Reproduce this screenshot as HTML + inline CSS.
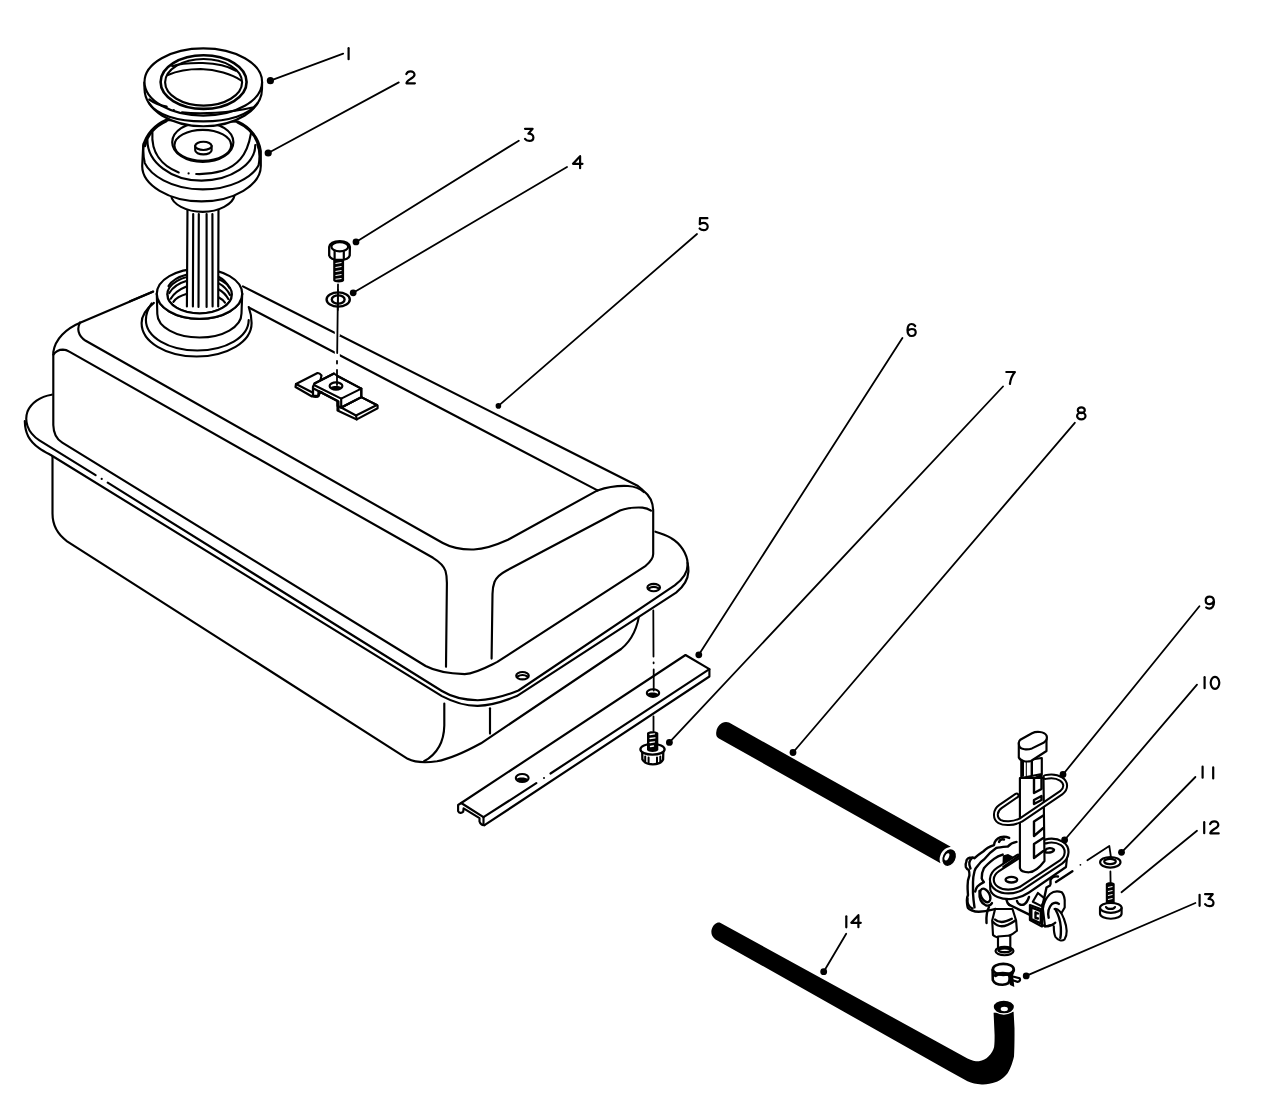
<!DOCTYPE html>
<html><head><meta charset="utf-8"><title>Fuel Tank Parts Diagram</title>
<style>
html,body{margin:0;padding:0;background:#fff;}
body{width:1280px;height:1105px;overflow:hidden;font-family:"Liberation Sans",sans-serif;}
svg{display:block;}
.s{fill:none;stroke:#000;stroke-width:2.15;stroke-linecap:round;stroke-linejoin:round;}
.w{fill:#fff;stroke:#000;stroke-width:2.15;stroke-linecap:round;stroke-linejoin:round;}
.f{fill:#fff;stroke:none;}
.t{fill:none;stroke:#000;stroke-width:1.8;stroke-linecap:round;stroke-linejoin:round;}
.l{fill:none;stroke:#000;stroke-width:1.8;stroke-linecap:round;}
.d{fill:#000;stroke:none;}
.g{fill:none;stroke:#000;stroke-width:2.4;stroke-linecap:round;stroke-linejoin:round;}
</style></head>
<body>
<svg width="1280" height="1105" viewBox="0 0 1280 1105">
<defs>
<g id="n0"><ellipse cx="4.4" cy="6" rx="4.3" ry="6"/></g>
<g id="n1"><path d="M0,0 V11"/></g>
<g id="n2"><path d="M0,2.8 C0.8,0.8 2.5,0 4.2,0 C6.5,0 8.2,1.5 8.2,3.5 C8.2,5.5 6,6.5 4,7.8 C2,9 0.3,10 0.2,12 L8.6,12"/></g>
<g id="n3"><path d="M0.2,0 H7.8 L3.6,4.8 C6.6,4.6 8.6,6.4 8.6,8.6 C8.6,10.7 6.8,12 4.5,12 C2.6,12 1,11.2 0.2,10"/></g>
<g id="n4"><path d="M7.1,12 V0 L0,7.6 H9.5"/></g>
<g id="n5"><path d="M8.2,0 H0.8 L0.6,6 C1.5,5 3,4.6 4.3,4.6 C6.8,4.6 8.5,6.3 8.5,8.5 C8.5,10.5 6.8,12 4.5,12 C2.8,12 1.3,11.3 0.4,10.3"/></g>
<g id="n6"><path d="M8.2,2 C7.3,0.7 6,0 4.5,0 C2,0 0.6,2.5 0.5,6 C0.4,9.5 2,12 4.6,12 C7,12 8.7,10.5 8.7,8.3 C8.7,6.3 7,5 4.8,5 C3,5 1.6,5.8 0.8,7"/></g>
<g id="n7"><path d="M0,0 H8.6 C6,3 4.3,6.5 3.6,12"/></g>
<g id="n8"><ellipse cx="4.5" cy="2.9" rx="3.5" ry="2.9"/><ellipse cx="4.5" cy="8.7" rx="4.2" ry="3.3"/></g>
<g id="n9"><path d="M8.3,4.5 C7.8,6.5 6.2,7.5 4.3,7.5 C1.8,7.5 0.2,6 0.2,3.8 C0.2,1.5 2,0 4.3,0 C7,0 8.5,2 8.5,5.5 C8.5,9.5 6.5,12 3.8,12 C2.5,12 1.5,11.6 0.7,10.9"/></g>
</defs>

<!-- ================= TANK ================= -->
<g id="tank">
<!-- lower body -->
<path class="s" d="M52.5,450 L52.5,513.6 C52.5,524 57,534 67.1,541.3 L407.7,758.8 C414,762 425,763 437,761.3 C452,758.5 466,751.5 481,743.3 L621.1,649 C631,641 638,628 639.9,610"/>
<path class="s" d="M444.3,703.5 L444.3,725.4 C444,741 437,754 424,761.3"/>
<path class="s" d="M490,708.3 L490,733.6"/>

<!-- flange -->
<path class="f" d="M51.7,394.7 C40,396.5 31,403 27.5,411.5 C24,420 24.5,433 29.7,440.3 C33,446 43,451 50.8,455 L441.9,696.1 C455,703 466,706 477.7,705.9 C492,705.5 505,701 516.8,696.1 L676.1,592.6 C683,587 688.5,580 688.4,571.6 C688,556 680,543 671.3,538.2 C666,535 660,533 655.4,531.7 Z"/>
<path class="s" d="M51.7,394.7 C40,396.5 31,403 27.5,411.5 C24.5,420 26.5,432 39.4,440.3 L95.6,475.2 M107.7,482.7 L441.9,691 C451,696.5 463,700 477.7,700.2 C492,700 505,696 518.5,690.5 L674.7,585.3 C682,580 687.7,572 687.7,564 C687.5,554 680,543 671.3,538.2 C666,535 660,533 655.4,531.7"/>
<path class="s" d="M24.8,421 C25,433 29,441 39.4,448.4 C43,451 47,453 50.8,455 L441.9,696.1 C455,703 466,706 477.7,705.9 C492,705.5 505,701 516.8,696.1 L676.1,592.6 C683,587 688,580 688.4,571.6 C688.5,568 688,565 687.5,563"/>
<circle class="d" cx="101.7" cy="478.9" r="1.1"/>
<ellipse class="s" cx="522.5" cy="675.7" rx="6.3" ry="3.7"/>
<path class="s" d="M517.5,676.5 Q522.5,673.5 527.5,676.5"/>
<ellipse class="s" cx="653.7" cy="587.5" rx="6.3" ry="3.7"/>
<path class="s" d="M648.7,588.3 Q653.7,585.3 658.7,588.3"/>

<!-- upper body -->
<path class="f" d="M152.9,291.7 L80.7,322.4 C66,328.5 55,339 53.3,352.2 L53.3,425 C53.5,434 57,439.5 62.3,442.7 L425.6,666 C435,671 448,673.5 464.7,674.1 C476,673.5 487,667 497.3,661.9 L645.7,565.8 C649,563 653.2,559 653.2,554 L653.2,510.7 C653,502 649,495 643.8,491.1 C642,489.5 640,487.5 638,486 L242.9,286.4 L206,268 Z"/>
<path class="s" d="M152.9,291.7 L80.7,322.4 C66,328.5 55,339 53.3,352.2 L53.3,425 C53.5,434 57,439.5 62.3,442.7 L425.6,666 C435,671 448,673.5 464.7,674.1 C476,673.5 487,667 497.3,661.9 L645.7,565.8 C649,563 653.2,559 653.2,554 L653.2,510.7 C653,502 649,495 643.8,491.1 C642,489.5 640,487.5 638,486 L242.9,286.4"/>
<path class="s" d="M80,322.4 C77,328 77.5,335.5 85.7,340.8 L442.8,543 C452,548 463,549.8 473.8,549.5 C484,549 494,546 508,539.7 L597.5,490.4"/>
<path class="s" d="M597.5,490.4 C606,487.5 618,485.5 628,486 C635,486.5 640,488.5 643.8,492"/>
<path class="s" d="M248.7,307.5 L597.5,490.4"/>
<path class="s" d="M53.4,354.7 C55.5,351.5 59,349.6 62.9,349.6 C65.5,349.7 67.5,350.5 69.3,351.6 L433,557.8 C439,561.5 444,566 445.5,571 C446.7,575 446.9,579 446.9,582.9 L446,666.8"/>
<path class="s" d="M651,510.7 C648,508.5 645,507.8 642.4,507.6 C636,507.3 628,507.5 620,510.5 L506.3,570.7 C500,574 496,578 494.5,582 C493,586 492.5,590 492.5,594 L491.6,658.6"/>
</g>

<!-- ================= FILLER NECK ================= -->
<g id="neck">
<!-- base boss rings -->
<path class="w" d="M153.9,302.8 C146,309 141.6,316 141.6,323 C141.6,342 166,356.5 196.6,356.5 C227,356.5 251.6,342 251.6,323 C251.6,317 250.5,312 248.7,307"/>
<path class="s" d="M151.7,303.5 C147.5,309 145.9,315 145.9,320 C145.9,337 168.5,350.5 197.3,350.5 C226,350.5 248.7,337 248.7,320"/>
<!-- neck body -->
<path class="w" d="M156.8,293.8 L157.3,314 C157.5,327 176,337.5 199.5,337.5 C223,337.5 241.5,327 241.5,313.5 L242.2,293.8 Z"/>
<ellipse class="w" cx="199.5" cy="293.8" rx="42.7" ry="25"/>
<ellipse class="w" cx="199.6" cy="294.5" rx="32.3" ry="19"/>
<!-- threads -->
<path class="s" d="M168.5,286 C172,280.5 179,276.5 187,274.5"/>
<path class="s" d="M169.3,293 C173,287 179,283 187,280.8"/>
<path class="s" d="M170.7,298.7 C174,293 180,289 187,286.2"/>
<path class="s" d="M173.4,301.8 C176,298 181,295.5 187,293.8"/>
<path class="s" d="M218.5,276.8 C223,279 227,283 229.5,288"/>
<path class="s" d="M218.5,283.1 C223,285.5 227.5,290 230,295"/>
<path class="s" d="M218.5,289.3 C222.5,291.5 226,295 228.3,299"/>
<path class="s" d="M218.5,297.2 C221,298.5 223.5,300.5 225,302.6"/>
<!-- strainer tube -->
<path class="f" d="M187.5,205 L186.8,307 L218.2,307 L218.5,205 Z"/>
<path class="s" d="M187.5,205 L186.9,306.5 M218.5,205 L218.2,306.5"/>
<path class="s" d="M193.2,214 L192.9,306.5 M198.8,214 L198.5,307 M206.6,214 L206.6,307 M212.4,214 L212.6,306.5"/>
<!-- front lip of neck opening (hides tube bottom) -->
<path class="f" d="M156.8,293.8 C156.8,307.6 176,318.8 199.5,318.8 C223,318.8 242.2,307.6 242.2,293.8 L231.9,294.5 C231.9,305 217.4,313.5 199.6,313.5 C181.8,313.5 167.3,305 167.3,294.5 Z"/>
<path class="s" d="M156.8,293.8 C156.8,307.6 176,318.8 199.5,318.8 C223,318.8 242.2,307.6 242.2,293.8"/>
<path class="s" d="M167.3,294.5 C167.3,305 181.8,313.5 199.6,313.5 C217.4,313.5 231.9,305 231.9,294.5"/>
<!-- tank top line stubs near neck -->
<path class="s" d="M130,301.3 L153.2,291.5"/>
</g>

<!-- ================= CAP (2) ================= -->
<g id="cap">
<!-- lower neck of cap -->
<path class="w" d="M171.1,195.5 C172,204 186,211.8 202.8,211.8 C219,211.8 233,204 234.5,195.5 Z"/>
<!-- body silhouette -->
<path class="w" d="M165.6,119.9 C155,124.5 146,134 143.2,145.6 L142.2,166 C142.2,185 169,201.4 201.5,201.4 C234,201.4 260.8,185 260.8,166 L260.8,151 C259,138 250,127 237.8,121.6 Z"/>
<path class="s" d="M166.5,121.2 C156,126 147.5,134.5 145,146 M237.5,122.3 C248,127 256.5,136 258.8,148" style="stroke-width:2.4"/>
<path class="s" d="M143.7,143.4 C143,150 143.5,158 144.8,163.1 C150,174 170,189.4 202.8,189.4 C230,189.4 252,178 258.6,165.3 C260,158 259.5,150 257.5,144.5"/>
<path class="s" d="M147.4,140 C147.3,162 171,180.6 201.5,180.6 C231,180.6 255.3,164 255.3,145"/>
<path class="s" d="M152.4,132.5 C151,153 162,166 178.7,172.5"/>
<path class="s" d="M196.2,174 C205,174.3 215,173 222.5,170.8 C236,166 247,157 250.9,133.6"/>
<circle class="d" cx="188.6" cy="173.4" r="1.1"/>
<!-- recess -->
<ellipse class="w" cx="202.8" cy="142.2" rx="30.6" ry="19.8"/>
<ellipse class="s" cx="202.8" cy="145.3" rx="28.4" ry="15.5"/>
<!-- button -->
<path class="w" d="M195.2,145.9 L195.2,150.3 C195.2,152.6 198.9,154.4 203.4,154.4 C207.9,154.4 211.6,152.6 211.6,150.3 L211.6,145.9 Z"/>
<ellipse class="w" cx="203.4" cy="145.9" rx="8.2" ry="4.1"/>
</g>

<!-- ================= GASKET (1) ================= -->
<g id="gasket">
<path class="w" d="M144.3,82.5 L144.5,89 C145,110 171,126.2 203.3,126.2 C235.6,126.2 261.8,110 262,89 L262.1,82.5 Z"/>
<ellipse class="w" cx="203.3" cy="82" rx="58.8" ry="33.6"/>
<path class="s" d="M149,103 C157,115 177,121.3 203.3,121.3 C229,121.3 249,115 257.5,103"/>
<path class="s" d="M149.2,99.5 C155,103.5 160,105.5 166.7,106.5"/>
<path class="s" d="M182,112.3 C200,114.3 230,113 252.5,107.5"/>
<circle class="d" cx="173.8" cy="110" r="1.1"/>
<ellipse class="g" cx="203.6" cy="82.1" rx="43" ry="26.8" style="stroke-width:2.6"/>
<ellipse class="s" cx="203.6" cy="82.3" rx="38.5" ry="23.3"/>
<path class="s" d="M172.2,66.2 C180,63.5 192,62.8 202.8,63 C215,63.4 228,66 235.6,70.6"/>
<path class="s" d="M167.8,75 C177,71 190,69 200.6,69 C216,69.5 232,74 241.1,80.5"/>
</g>

<!-- ================= BRACKET / BOLT 3 / WASHER 4 ================= -->
<g id="bracket">
<!-- left tab -->
<path class="w" d="M321.5,375.5 C320,373.5 318.5,372.8 317.5,373 L296,384 L295.5,387 L312,396.5 L318,396.5 L320.5,392 L320.5,380 Z"/>
<path class="s" d="M296,384 L312.5,392.5"/>
<!-- right (lower) tab -->
<path class="w" d="M341.2,407.5 L361.3,397.1 L377.6,405.5 L377.6,408.3 L356.8,419.4 L337.5,410.5 L337.5,401 Z"/>
<path class="s" d="M361.3,397.1 L376.9,405 L356,415.5 L341.2,407.5"/>
<path class="s" d="M356,415.5 L356.8,419.4"/>
<!-- raised middle -->
<path class="w" d="M314.5,383.5 L334,373.5 L337.5,376 L361.3,388.6 L361.3,397.1 L341.2,407.5 L337.5,406 L337.5,401 L318.5,391 L318.5,396 L313,395.6 L313,386.7 Z"/>
<path class="s" d="M314.5,385.2 L341.2,398.6 L361.3,388.6 L337.5,376"/>
<path class="s" d="M314.5,383.5 L334,373.5"/>
<path class="s" d="M314,388.8 L338.5,401.5 L338.5,410"/>
<path class="s" d="M341.2,398.6 L341.2,407.5 L361.3,397.1 L361.3,388.6"/>
<path class="s" d="M313,386.7 L313,395.6 C314,397.5 317,397.5 318.5,395.5 L319,392.5 L321.5,392"/>
<ellipse class="s" cx="336" cy="386" rx="6.4" ry="3.6"/>
<path class="d" d="M330.5,387 C332,390 340,390 341.5,387 C339,385.5 333,385.5 330.5,387 Z"/>
</g>
<g id="bolt3">
<path d="M337.3,344 L337.3,357 M337.3,327 L337.3,336" stroke="#fff" stroke-width="5" fill="none"/>
<path class="t" d="M338,284.5 L337.2,353 M337,361 L337,363.5 M337,370 L337,385" style="stroke-width:1.8"/>
<!-- washer 4 -->
<ellipse class="s" cx="338.2" cy="299.5" rx="11.6" ry="7.1" style="stroke-width:2.4"/>
<ellipse class="s" cx="338.2" cy="299.5" rx="6.4" ry="4.1" style="stroke-width:2.4"/>
<path class="t" d="M338,290 L337.8,310" style="stroke-width:1.8"/>
<!-- bolt -->
<path d="M333.2,258 L333.2,280.5 C333.5,283 344,283 344.1,280.5 L344.1,258 Z" fill="#000"/>
<path d="M335.5,263.5 L341.5,262.5 M335.5,267.5 L341.5,266.5 M335.5,271.5 L341.5,270.5 M335.5,275.5 L341.5,274.5 M335.5,279.3 L341.5,278.5" stroke="#fff" stroke-width="1.1" fill="none"/>
<path class="w" d="M329.2,247 L329.2,255.5 C330,258.5 334.5,260 339.5,260 C344.5,260 349,258.5 349.7,255.5 L349.9,247 C349,243 345,241.2 339.8,241.2 C334.5,241.2 330,243 329.2,247 Z" style="stroke-width:2.3"/>
<ellipse class="s" cx="339.8" cy="246.7" rx="8.4" ry="4.6" style="stroke-width:2.2"/>
<path class="s" d="M334.6,251.5 L334.6,258.5 M343.8,251.5 L343.8,258.5" style="stroke-width:2.2"/>
</g>

<!-- ================= STRAP (6) & BOLT 7 ================= -->
<g id="strap">
<path class="f" d="M461.2,803 L685.5,655 L709.4,669.2 L709.4,676.5 L484.5,825.5 L480.5,824.3 L479.5,821.3 L463.5,811.5 L458.1,811.1 L458.1,805 Z"/>
<path class="s" d="M483.5,817.2 L461.2,803 L685.5,655 L709.4,669.2 L550.5,773.5 M536.3,783.2 L483.5,817.2"/>
<path class="s" d="M709.4,669.2 L709.4,676.5 L484.5,825.2"/>
<path class="s" d="M483.5,817.2 L483.5,825"/>
<path class="s" d="M461.2,803 L458.1,805 L458.1,811.1 C459,813.2 461.5,813.5 463.2,811.8 L463.6,808.3 L479.5,818.2 L479.5,821.5 C480.3,824 482,825.5 484.5,825.2"/>
<circle class="d" cx="544" cy="778.1" r="1"/>
<ellipse class="s" cx="522.2" cy="778" rx="6.4" ry="4"/>
<path class="d" d="M516.5,779 C518,782 526,782.5 528,779.5 C526,777 518.5,777 516.5,779 Z"/>
<ellipse class="s" cx="653" cy="693" rx="6.2" ry="3.8"/>
<path class="d" d="M647.5,694 C649,697 657,697.5 658.5,694.5 C656.5,692 649.5,692 647.5,694 Z"/>
</g>
<!-- centerline through flange hole to bolt 7 -->
<path class="t" d="M653.3,610.5 L653.5,656.5 M653.6,662.3 L653.6,663.3 M653.7,669.5 L653.7,690.5 M653.5,716.5 L653.5,731"/>
<!-- white gap in strap top edge around centerline -->
<g id="bolt7">
<path class="w" d="M642.2,752 L642.4,759.5 C644,762.5 648,764.3 652.9,764.3 C657.8,764.3 661.8,762.5 663.1,759.5 L663.3,752 Z" style="stroke-width:2.3"/>
<path class="s" d="M645.2,756.5 L645.2,761.5 M648.6,757.5 L648.6,763.5 M657,757.5 L657,763.5 M660.3,756.5 L660.3,761.5" style="stroke-width:2"/>
<ellipse class="w" cx="652.5" cy="749.3" rx="12.1" ry="5.4" style="stroke-width:2.3"/>
<path d="M647,733 L647,750 C648,752.5 657,752.5 658.3,750 L658.3,733 C657,730.5 648,730.5 647,733 Z" fill="#000"/>
<path d="M650,734.5 L654.5,733.8 M650,738.5 L655,737.8 M650,742.5 L654.5,741.8 M650.5,746.5 L653.5,746" stroke="#fff" stroke-width="1.3" fill="none" stroke-linecap="round"/>
</g>

<!-- ================= HOSE 8 ================= -->
<g id="hose8">
<path d="M729,722.6 L950.8,846.8 C946,847.5 942,851 940.5,855 C939.2,858 939.4,861 940.5,863.2 L718.5,738.2 C716.5,737 716,735 716.2,732.5 C716.5,728.5 718.5,725 722,723 C724.5,721.8 727,721.8 729,722.6 Z" fill="#000"/>
<ellipse cx="949.1" cy="857.6" rx="7" ry="9.3" transform="rotate(25 949.1 857.6)" fill="#000" stroke="#fff" stroke-width="1.3"/>
<ellipse cx="946.9" cy="856.8" rx="2" ry="3.8" transform="rotate(25 946.9 856.8)" fill="#fff"/>
</g>

<!-- ================= HOSE 14 ================= -->
<g id="hose14">
<path d="M719.7,922.5 L967.5,1058.4 C972,1060.5 975.5,1061.3 978.9,1061.2 C983,1060.5 986,1059 988.4,1056.5 C991.5,1053.5 993.5,1050 994.1,1047 C994.6,1043 994.6,1040 994.6,1035 L993.6,1012.8 L1013.6,1011.8 L1014.5,1028 C1014.6,1040 1014.4,1050 1014,1056.5 C1012,1065 1010,1069 1007.4,1073.6 C1003,1078.5 1000,1080.5 996,1082.1 C991,1084 986,1084.7 981.7,1084.5 C976,1084 972,1083 967.5,1081.2 L948.5,1070.7 L715.5,939.4 C711.5,937 710.5,932 712,928.5 C713.5,924.5 716.5,922 719.7,922.5 Z" fill="#000"/>
<ellipse cx="1003.8" cy="1007" rx="10.7" ry="7" fill="#000" stroke="#fff" stroke-width="1.3"/>
<ellipse cx="1004.3" cy="1009" rx="3.6" ry="2.2" fill="#fff"/>
</g>

<!-- ================= CLAMP 13 ================= -->
<g id="clamp13">
<path class="w" d="M992.6,970 L992.8,980 C994,983 998,984.7 1002.6,984.7 C1005,984.7 1007,984 1008.4,983.1 L1013.9,970 Z" style="stroke-width:2.6"/>
<ellipse cx="1003.3" cy="969.3" rx="10.4" ry="5.5" fill="#fff" stroke="#000" stroke-width="2.7"/>
<path d="M995.5,975.3 C998.5,972.8 1007,972.8 1010.8,975.5" fill="none" stroke="#000" stroke-width="3.6" stroke-linecap="round"/>
<path d="M1008,975.5 L1013.2,976.5 L1014.3,987 L1010,985 L1008.5,980 Z" fill="#000"/>
<path d="M1012,976.2 L1019.5,978.2 C1020.8,980 1019.5,981.8 1017.5,981.8 L1013.5,980.5" fill="none" stroke="#000" stroke-width="2.2" stroke-linecap="round"/>
</g>

<!-- ================= WASHER 11 / SCREW 12 ================= -->
<g id="screw">
<path class="t" d="M1087.4,860.3 L1109.3,845.9 L1111.2,858.8"/>
<circle class="d" cx="1080.4" cy="864.8" r="0.9"/>
<ellipse class="s" cx="1110.3" cy="862.3" rx="10.2" ry="5.3"/>
<ellipse class="s" cx="1110" cy="861.5" rx="5.8" ry="2.6"/>
<path class="t" d="M1110.4,871.5 L1110.6,884"/>
<path d="M1105.8,884 L1105.8,905 L1114.7,905 L1114.7,884 C1114.7,881.5 1105.8,881.5 1105.8,884 Z" fill="#000"/>
<path d="M1108,887.5 L1112.5,886.5 M1108,891.5 L1112.5,890.5 M1108,895.5 L1112.5,894.5 M1108,899.5 L1112.5,898.5" stroke="#fff" stroke-width="1.2" fill="none"/>
<path class="w" d="M1100,908 L1100,913.5 C1100,916.8 1105,918.7 1110.8,918.7 C1116.5,918.7 1121.6,916.8 1121.6,913.5 L1121.6,908 Z"/>
<ellipse class="w" cx="1110.8" cy="907.8" rx="10.8" ry="5"/>
<path class="s" d="M1106,907 C1107,909.5 1114,909.5 1115,907"/>
</g>

<!-- ================= VALVE (9,10) ================= -->
<g id="valve">
<!-- lever body (left) -->
<path class="g" d="M1009.2,837.9 C1006,836.5 1002,836.8 1000.5,837.2 C997,838.5 994.5,841 994,845.1 C990,846.5 986,848.5 983.9,850.9 C980,853.5 976.5,856 974.5,858.2 C973.5,857.5 972.5,857.3 972.3,857.4 C968.5,857.5 966.3,859 966.5,861.1 C965.5,863.5 965.5,866 965.8,866.9 C966.5,868.5 967.5,869.5 968.7,869.8 C969.5,872 969.5,874 969.4,875.5 C968,879 967.5,883 967.6,885.7 C967.5,889 967.8,892 968,895.1 C967,897 966.8,898.5 966.9,900.2 C967,904 967.3,906.5 968,908.1 C969,909.5 970.5,910 971.6,910.3 C974,911.3 976,911.8 978.8,911.8 C984,911.5 989,910.5 992.6,909.6 L995.5,908.9"/>
<path class="g" d="M999,842 C1000,839.5 1002,839 1004,839.5"/>
<path class="g" d="M1016.5,841.9 C1013,842.5 1010,844 1007.8,846.6 C1003,847 999,847.3 996.2,848 C991,851.5 987,855.5 983.9,859.6 C981,861.5 979.5,863.5 978.1,865.4 C976,867.5 975,869.5 974.5,871.2 C973.5,875 973,878 973,882.1 L973,893 C973.3,899 973.8,903 974.5,907.4"/>
<path class="g" d="M1002.7,854.6 C999.5,855.5 996.5,857 994,858.9 C990,862 986.5,865 983.9,868.3 C982,872 981.5,875 981.7,878.4 C982.3,880 983,881 983.9,882.1 C981,883.5 979,884.5 977.4,886.4 C976,888 975.5,890 975.2,891.5"/>
<path class="g" d="M972,858 C969.5,860 968.5,864 970.5,868.5 M967.5,898.5 C967,903 969,907 972.5,908.5"/>
<path class="d" d="M1002.8,855.5 L1008,854 L1013,856.5 L1010.5,859 L1005.5,866.9 L1002.5,864 Z"/>
<!-- left outlet -->
<ellipse class="g" cx="985.3" cy="895.4" rx="4.3" ry="7.3" transform="rotate(-28 985.3 895.4)"/>
<path class="g" d="M979.5,891 C979,898 981,903.5 986,905.5 C989,906 991,905 992,903"/>
<!-- underside pieces -->
<path class="g" d="M1008.9,904.6 L1029.9,914.8"/>
<path class="g" d="M1017,901 C1018,904.5 1021,905.5 1024,904.5 C1026.5,903 1028,900 1029,897"/>
<path class="g" d="M1006.5,900 C1007,902.5 1008,904 1009.5,905"/>
<!-- plate thickness -->
<path class="w" d="M990,882 L990.3,890 C992,896 1001,899.5 1011,899 C1017,898.5 1023,896.5 1029,892.5 L1066,867 L1067.5,853 Z"/>
<!-- mounting plate (10) -->
<path d="M1017.9,856.7 L998,869.5 C990.5,874.5 989.5,883.5 997,888.5 C1003,892.5 1013,892.5 1021,888.5 L1061,862 C1068,857 1068.5,848 1062,843.5 C1056,840 1049,840.5 1045.5,841.5" fill="#fff" stroke="#000" stroke-width="6" stroke-linecap="round" stroke-linejoin="round"/>
<path d="M1017.9,856.7 L998,869.5 C990.5,874.5 989.5,883.5 997,888.5 C1003,892.5 1013,892.5 1021,888.5 L1061,862 C1068,857 1068.5,848 1062,843.5 C1056,840 1049,840.5 1045.5,841.5" fill="none" stroke="#fff" stroke-width="1.7" stroke-linecap="round" stroke-linejoin="round"/>
<path class="g" d="M1003.4,866.9 L1017.9,856.7"/>
<ellipse class="g" cx="1011.4" cy="879.7" rx="5.8" ry="2.8"/>
<!-- stem -->
<path class="w" d="M1019.9,778 L1019.9,868 C1020.5,871 1024,872.3 1029,872.3 C1035,872 1040,867 1044.5,861 L1043.5,778 Z"/>
<path class="g" d="M1034,821.6 L1034,836 L1043.3,828 M1034,821.6 L1043.3,815.5"/>
<path class="g" d="M1034,844 L1034,858 L1043.3,851 M1034,844 L1043.3,838"/>
<path class="g" d="M1034,793 L1034,778.5 L1041.5,775 L1041.5,789 Z"/>
<path class="g" d="M1034,804 L1034,800 L1041.5,796 L1041.5,800 Z"/>
<path class="g" d="M1045,850.5 C1047,847.5 1052,847.5 1054,849.5 C1054,852 1050,853 1046,852.5"/>
<!-- upper thin stem -->
<path class="w" d="M1021.3,761 L1021.3,778 L1041.8,774 L1041.8,758 Z"/>
<path d="M1021.5,761 L1024,761 L1024,776.5 L1021.5,777 Z M1025.8,761 L1026.8,761 L1026.8,776 L1025.8,776 Z" fill="#000"/>
<path class="g" d="M1031.8,761 L1031.8,775"/>
<!-- top cap -->
<path class="w" d="M1018.8,743 L1018.8,757.5 C1020,760.5 1026,762.5 1031,761 L1046.5,751 L1046.5,737.5 Z"/>
<path class="w" d="M1020.3,739.8 L1032,733.2 C1036,731.2 1044,731.2 1046.5,735.5 C1048,739 1046,741 1043.5,742.8 L1032,748.4 C1027,750.2 1021,749.4 1019.4,746.5 C1018.5,744 1018.6,741.5 1020.3,739.8 Z"/>
<!-- gasket 9 (loop) -->
<path d="M1016.6,795.5 L1000.5,806.5 C994.5,810.5 994.5,818.5 999.5,821.5 C1004,824 1013,824 1021,820 L1061.5,792.5 C1066.5,788.5 1066.5,782.5 1061,779 C1056.5,776 1050,776 1045.5,777" fill="none" stroke="#000" stroke-width="5.8" stroke-linecap="round" stroke-linejoin="round"/>
<path d="M1016.6,795.5 L1000.5,806.5 C994.5,810.5 994.5,818.5 999.5,821.5 C1004,824 1013,824 1021,820 L1061.5,792.5 C1066.5,788.5 1066.5,782.5 1061,779 C1056.5,776 1050,776 1045.5,777" fill="none" stroke="#fff" stroke-width="1.8" stroke-linecap="round" stroke-linejoin="round"/>
<!-- nozzle -->
<path class="w" d="M995.1,909 L992.2,920.5 L993,935 C995,937 998,937.5 1000,937.5 C1005,937.5 1012,935 1016.9,930.7 L1016.1,920.5 L1012.5,909 Z"/>
<path class="g" d="M993,922 C996,925 999,926.3 1001.7,926.3 C1006,926.3 1011,923.5 1015.4,920.5"/>
<path class="g" d="M995,919.5 C997,921.5 999,922 1001.5,922 C1005,922 1008.5,920.5 1011.8,918.8"/>
<path class="w" d="M998,936.5 L998,949 L1010.3,949 L1010.3,935.5 Z"/>
<ellipse class="w" cx="1004.5" cy="951" rx="9" ry="4.2"/>
<ellipse class="g" cx="1004.7" cy="950.3" rx="6.3" ry="1.9"/>
<path class="g" d="M989,907 C987,911 986,916 986.5,923"/>
<!-- box -->
<path class="w" d="M1029.9,905 L1029.9,920 L1042,926.5 L1042,909.5 Z"/>
<path class="g" d="M1031.3,907.5 L1040.8,911.1 L1040.8,923.4 L1031.3,919.1 Z"/>
<path class="w" d="M1032.8,901.7 L1037.9,893 L1045.1,898.8 L1041.5,906.1 Z"/>
<path class="g" d="M1035.5,912.5 L1035.5,918 L1038,918.5 M1035.5,912.5 L1038,913.5"/>
<path class="g" d="M1042,909.5 L1044,899 L1046.5,887.5 L1050,885.5"/>
<!-- right knob -->
<path class="w" d="M1042.9,909 C1043.5,903 1046,898 1050,894 C1053,891.5 1057,890.5 1061.8,892.3 C1064,895 1065,898 1064.7,903 L1064.7,907.5 L1055,924 L1045,926.5 Z"/>
<path class="w" d="M1054.5,909 C1058,908 1062,913 1064,919 C1067,927 1067.5,935 1064.5,939.5 C1062,941.5 1058,940.5 1055.5,937 C1054,934 1053.8,930 1053.8,926.3"/>
<path class="g" d="M1048.7,917.7 C1047.5,912 1049,907 1052,904 C1054,902.5 1057,902.5 1058.9,903.9"/>
<path class="g" d="M1042.2,924.9 C1044,926 1046,926.3 1048,926.3 C1051,926 1053.5,924.5 1055.2,922.7"/>
<path class="g" d="M1055.5,909.5 C1058,914 1060.3,920 1060.8,927 C1061,931 1061,935 1060.3,937.9"/>
<!-- right lead-off line -->
<path class="g" d="M1050.5,884 L1050.5,880 C1052,877 1055,876 1058,876.5"/>
<path class="g" d="M1056,882 L1072.4,871.2"/>
</g>

<!-- ================= LEADERS ================= -->
<g id="leaders">
<path class="l" d="M270.4,80.7 L343.2,53.6"/>
<path class="l" d="M268.2,153 L398.8,82.4"/>
<path class="l" d="M356,241.9 L518.8,140.7"/>
<path class="l" d="M353.2,292.8 L567,167"/>
<path class="l" d="M498.4,405.9 L697,234"/>
<path class="l" d="M698.8,654.8 L902.4,338"/>
<path class="l" d="M669.4,742.4 L1003,386.5"/>
<path class="l" d="M793,752.5 L1074.8,422.8"/>
<path class="l" d="M1063,774.5 L1199.4,606.2"/>
<path class="l" d="M1064.6,840 L1197,684.6"/>
<path class="l" d="M1121.5,852.3 L1195.4,777"/>
<path class="l" d="M1121.5,892.3 L1197,830.8"/>
<path class="l" d="M1026.2,975.9 L1195.4,903"/>
<path class="l" d="M823.7,971.7 L846.2,933.7"/>
<circle class="d" cx="270.4" cy="80.7" r="3.6"/>
<circle class="d" cx="268.2" cy="153" r="3.6"/>
<circle class="d" cx="356" cy="241.9" r="3.4"/>
<circle class="d" cx="353.2" cy="292.8" r="3.4"/>
<circle class="d" cx="498.4" cy="405.9" r="2.8"/>
<circle class="d" cx="698.8" cy="654.8" r="3.4"/>
<circle class="d" cx="669.4" cy="742.4" r="3.4"/>
<circle class="d" cx="793" cy="752.5" r="3.4"/>
<circle class="d" cx="1063" cy="774.5" r="3.4"/>
<circle class="d" cx="1064.6" cy="840" r="3.4"/>
<circle class="d" cx="1121.5" cy="852.3" r="3.4"/>
<circle class="d" cx="1026.2" cy="975.9" r="3.4"/>
<circle class="d" cx="823.7" cy="971.7" r="3.4"/>
</g>

<!-- ================= LABELS ================= -->
<g id="labels" fill="none" stroke="#000" stroke-width="2.2" stroke-linecap="round" stroke-linejoin="round">
<use href="#n1" x="348.6" y="48.2"/>
<use href="#n2" x="406.3" y="71.3"/>
<use href="#n3" x="524.8" y="128.8"/>
<use href="#n4" x="573" y="156.2"/>
<use href="#n5" x="699.2" y="218.2"/>
<use href="#n6" x="907" y="324"/>
<use href="#n7" x="1006.3" y="372"/>
<use href="#n8" x="1076.8" y="407.3"/>
<use href="#n9" x="1205.5" y="596.6"/>
<use href="#n1" x="1204.6" y="677.2"/><use href="#n0" x="1210.6" y="676.8"/>
<use href="#n1" x="1202.6" y="766.7"/><use href="#n1" x="1213.2" y="767.4"/>
<use href="#n1" x="1204.2" y="822.2"/><use href="#n2" x="1210.1" y="821.4"/>
<use href="#n1" x="1199.6" y="894.8"/><use href="#n3" x="1204.9" y="894.2"/>
<use href="#n1" x="846.3" y="916.3"/><use href="#n4" x="851.3" y="915.2"/>
</g>

</svg>
</body></html>
